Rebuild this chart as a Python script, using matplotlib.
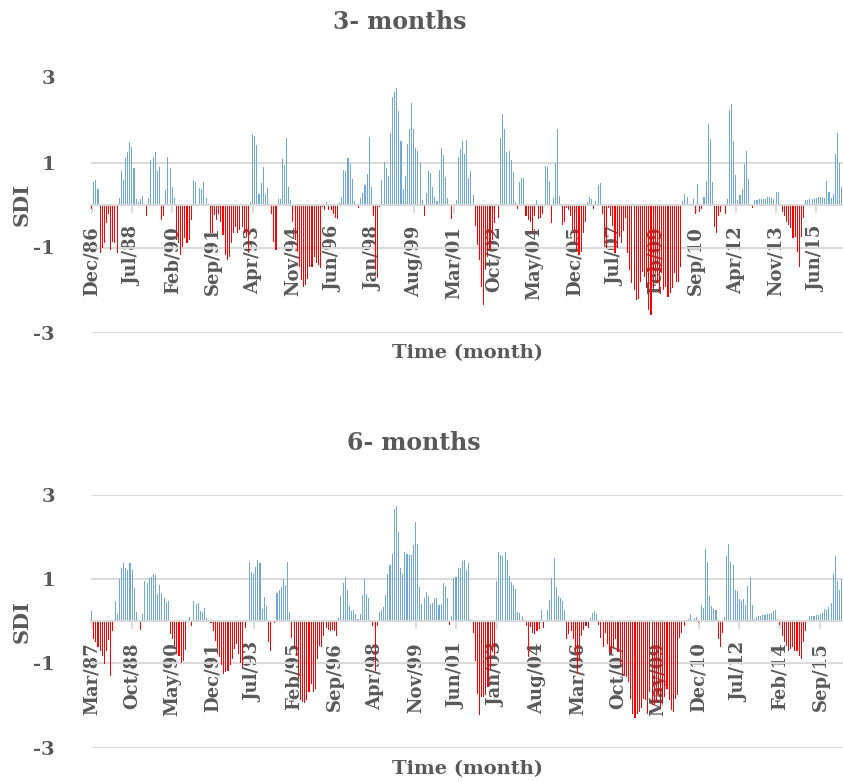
import numpy as np
import pandas as pd
import matplotlib
matplotlib.use('Agg')
import matplotlib.pyplot as plt

# SDI values, one per month
sdi3_start = '1986-12'
sdi3 = [
    -0.1, 0.55, 0.6, 0.38, -1.14, -1.0, -0.9, -0.43, -0.2, -1.06, -0.86, -0.9,
    -1.14, 0.16, 0.8, 0.59, 1.1, 1.25, 1.49, 1.36, 0.88, 0.14, 0.08, 0.13,
    0.21, 0.0, -0.26, 0.16, 1.07, 1.14, 1.24, 0.8, 0.9, -0.35, -0.27, 0.35,
    1.12, 0.88, 0.42, 0.17, -0.82, -0.9, -1.18, -0.98, -0.78, -0.9, -0.82, -0.35,
    0.59, 0.53, 0.0, 0.39, 0.37, 0.53, 0.17, 0.0, -0.67, -0.67, -0.24, -0.35,
    -0.2, -0.39, -0.7, -1.18, -1.29, -1.22, -0.9, -0.67, -0.51, -0.67, -0.59, -0.51,
    -0.67, -0.75, -1.14, 0.06, 1.67, 1.62, 1.41, 0.27, 0.51, 0.9, 0.27, 0.41,
    0.0, -0.2, -0.86, -1.06, 0.14, 0.14, 1.08, 0.94, 1.57, 0.42, 0.12, -0.39,
    -0.82, -1.1, -1.45, -1.76, -1.92, -1.88, -1.73, -1.45, -1.45, -1.22, -1.37, -1.41,
    -1.49, -0.04, -0.12, 0.08, -0.12, -0.12, -0.2, -0.3, -0.32, 0.04, 0.2, 0.82,
    0.8, 1.1, 0.96, 0.61, 0.09, 0.0, -0.08, 0.16, 0.29, 0.47, 0.73, 1.61,
    0.43, -0.27, -1.5, -1.72, -0.05, 0.59, 1.02, 0.88, 0.69, 1.69, 2.55, 2.67,
    2.75, 2.2, 1.51, 0.37, 0.68, 1.43, 1.8, 2.41, 1.78, 1.33, 1.27, 1.0,
    0.12, -0.27, 0.29, 0.8, 0.76, 0.43, 0.2, 0.1, 0.82, 1.33, 1.18, 0.65,
    0.16, 0.0, -0.34, 0.0, 0.12, 1.12, 1.32, 1.51, 1.2, 1.53, 0.63, 0.8,
    0.24, -0.49, -0.94, -1.29, -1.92, -2.35, -1.53, -1.22, -1.06, -0.82, -0.43, 0.0,
    -0.31, 1.57, 2.13, 1.78, 1.25, 1.28, 1.06, 0.78, 0.08, -0.1, 0.55, 0.63,
    0.63, -0.26, -0.35, -0.41, -0.67, -0.27, 0.12, -0.34, -0.31, -0.2, 0.92, 0.9,
    0.56, -0.42, 0.16, 0.98, 1.8, 0.21, -0.47, -0.39, -0.08, -0.12, -0.27, -0.59,
    -0.9, -1.1, -1.18, -1.1, -0.67, -0.4, 0.08, 0.18, 0.13, -0.1, 0.1, 0.47,
    0.51, -0.2, -0.9, -1.0, -0.08, -0.27, -0.5, -1.14, -1.0, -0.75, -0.9, -0.6,
    -0.3, -1.14, -1.53, -1.84, -2.0, -2.24, -2.2, -1.8, -1.57, -1.69, -1.96, -2.47,
    -2.59, -1.96, -1.6, -1.84, -2.08, -1.6, -2.0, -1.92, -2.16, -2.08, -1.96, -1.6,
    -1.8, -1.8, -1.45, 0.1, 0.26, 0.2, 0.0, 0.0, 0.13, -0.2, 0.49, -0.16,
    -0.1, 0.2, 0.56, 1.9, 1.55, 0.54, -0.51, -0.67, -0.27, -0.16, 0.0, -0.2,
    0.13, 2.24, 2.38, 1.51, 0.71, 0.12, 0.24, 0.38, 0.96, 1.27, 0.62, 0.0,
    -0.08, 0.12, 0.12, 0.13, 0.14, 0.13, 0.14, 0.18, 0.18, 0.17, 0.14, 0.3,
    0.3, 0.0, -0.16, -0.27, -0.39, -0.47, -0.55, -0.78, -0.75, -1.1, -1.45, -0.75,
    -0.31, 0.12, 0.12, 0.14, 0.14, 0.14, 0.17, 0.2, 0.2, 0.2, 0.17, 0.56,
    0.3, 0.16, 0.27, 1.2, 1.7, 1.0, 0.43,
]

sdi6_start = '1987-03'
sdi6 = [
    0.25, -0.43, -0.5, -0.62, -0.7, -0.82, -1.02, -0.7, -0.45, -1.29, -0.23, 0.47,
    0.18, 1.0, 1.27, 1.37, 1.27, 1.21, 1.37, 1.21, 0.78, 0.22, 0.0, -0.2,
    0.17, 0.95, 0.9, 1.02, 1.04, 1.13, 1.09, 0.65, 0.86, 0.66, 0.55, 0.45,
    0.49, -0.31, -0.43, -0.59, -0.78, -0.82, -0.98, -0.94, -0.69, 0.0, 0.09, -0.12,
    0.48, 0.41, 0.43, 0.25, 0.23, 0.31, 0.08, 0.0, -0.05, -0.23, -0.47, -0.62,
    -0.86, -1.05, -1.25, -1.21, -1.17, -1.05, -0.9, -0.66, -0.55, -0.78, -0.98, -1.12,
    -0.16, 0.0, 1.41, 1.17, 1.13, 1.29, 1.45, 1.38, 0.3, 0.57, 0.37, -0.5,
    -0.7, 0.0, -0.05, 0.68, 0.74, 0.8, 1.0, 0.86, 1.41, 0.23, -0.39, -0.62,
    -0.82, -1.37, -1.87, -1.91, -1.94, -1.87, -1.68, -1.48, -1.68, -1.6, -0.9, -0.59,
    -0.62, -0.35, -0.16, -0.2, -0.23, -0.2, -0.23, -0.35, 0.08, 0.59, 0.9, 1.05,
    0.74, 0.35, 0.25, 0.27, 0.16, 0.05, 0.18, 0.62, 0.99, 0.65, 0.55, 0.0,
    -0.12, -1.17, -0.12, 0.23, 0.27, 0.34, 0.62, 1.13, 1.33, 1.59, 2.66, 2.73,
    2.11, 1.27, 1.12, 1.64, 1.59, 1.56, 1.56, 1.8, 2.36, 1.82, 0.8, 0.41,
    0.55, 0.7, 0.59, 0.41, 0.43, 0.55, 0.55, 0.39, 0.41, 0.9, 0.84, 0.55,
    -0.1, 0.12, 1.02, 1.04, 1.25, 1.25, 1.42, 1.46, 1.21, 1.38, 0.05, -0.27,
    -0.94, -1.72, -2.23, -1.8, -1.8, -1.76, -1.56, -1.13, -0.74, -0.82, 0.96, 1.64,
    1.56, 1.54, 1.63, 1.45, 1.07, 0.94, 0.86, 0.76, 0.23, 0.2, 0.13, 0.0,
    -0.12, -0.86, -0.13, -0.29, -0.31, -0.23, -0.18, 0.26, -0.16, 0.0, 0.26, 0.51,
    1.02, 1.51, 0.8, 0.59, 0.55, 0.47, 0.26, -0.43, -0.31, -0.23, -0.43, -0.74,
    -1.25, -0.94, -0.35, -0.2, -0.12, -0.16, 0.08, 0.2, 0.25, 0.16, -0.08, -0.39,
    -0.62, -0.27, -0.55, -0.74, -0.78, -0.66, -0.43, -0.74, -1.05, -1.29, -1.29, -1.33,
    -1.45, -1.84, -2.19, -2.29, -2.19, -2.15, -2.07, -1.84, -1.87, -2.19, -1.68, -1.99,
    -1.99, -1.91, -1.76, -2.07, -1.95, -1.8, -1.6, -1.87, -2.11, -2.15, -1.84, -1.76,
    -0.39, -0.27, -0.12, 0.0, 0.05, 0.18, 0.0, 0.08, 0.09, -0.04, 0.38, 0.31,
    1.72, 1.41, 0.6, 0.37, 0.3, 0.27, -0.43, -0.62, -0.27, 0.09, 1.54, 1.82,
    1.41, 1.33, 0.74, 0.72, 0.52, 0.48, 0.53, 0.39, 0.84, 1.05, 0.39, 0.05,
    0.09, 0.12, 0.13, 0.15, 0.15, 0.16, 0.16, 0.2, 0.25, 0.27, 0.05, -0.1,
    -0.35, -0.5, -0.59, -0.7, -0.66, -0.62, -0.7, -0.7, -0.82, -0.9, -0.5, -0.23,
    0.0, 0.12, 0.12, 0.13, 0.15, 0.15, 0.16, 0.2, 0.3, 0.27, 0.33, 0.43,
    1.13, 1.54, 0.95, 0.74, 0.99,
]

y_ticks = [-3, -1, 1, 3]
label_step = 19

grey = '#595959'
grid_col = '#D9D9D9'
plt.rcParams['font.family'] = 'DejaVu Serif'
plt.rcParams['font.weight'] = 'bold'

W, H = 843, 782
fig = plt.figure(figsize=(W / 100, H / 100), dpi=100)


def panel(rect, values, start, title, title_x, title_y, xlabel_y):
    ax = fig.add_axes(rect)
    x = np.arange(len(values))
    months = pd.date_range(start, periods=len(values), freq='MS')
    colors = ['#FF0000' if v < 0 else '#6FA8DC' for v in values]
    ax.bar(x, values, width=0.5, color=colors, linewidth=0)

    ax.set_xlim(-0.3, len(values) - 0.4)
    ax.set_ylim(-3, 3)
    ax.set_axisbelow(True)

    ax.set_xticks(x[::label_step], [m.strftime('%b/%y') for m in months[::label_step]])
    ax.set_yticks(y_ticks, [str(t) for t in y_ticks])
    ax.tick_params(axis='x', direction='out', length=6, width=1.3, color=grid_col,
                   pad=9, labelrotation=90, labelsize=13, labelcolor=grey)
    ax.tick_params(axis='y', length=0, pad=26, labelsize=14, labelcolor=grey)
    ax.grid(axis='y', color=grid_col, linewidth=1.4)

    for s in ['top', 'right', 'left']:
        ax.spines[s].set_visible(False)
    ax.spines['bottom'].set_position(('data', 0))
    ax.spines['bottom'].set_color(grid_col)
    ax.spines['bottom'].set_linewidth(1.4)

    fig.text(title_x / W, 1 - title_y / H, title, ha='center', va='center',
             fontsize=17, color=grey)
    fig.text(468 / W, 1 - xlabel_y / H, 'Time (month)', ha='center', va='center',
             fontsize=14, color=grey)
    b = ax.get_position()
    fig.text(22 / W, b.y0 + b.height / 2, 'SDI', rotation=90, ha='center', va='center',
             fontsize=15, color=grey)
    return ax


panel([91 / W, 1 - 332.5 / H, 752 / W, 255 / H], sdi3, sdi3_start, '3- months', 400, 22, 353)
panel([91 / W, 1 - 747.7 / H, 752 / W, 253 / H], sdi6, sdi6_start, '6- months', 414, 443, 769)

fig.savefig('out.png', dpi=100)
